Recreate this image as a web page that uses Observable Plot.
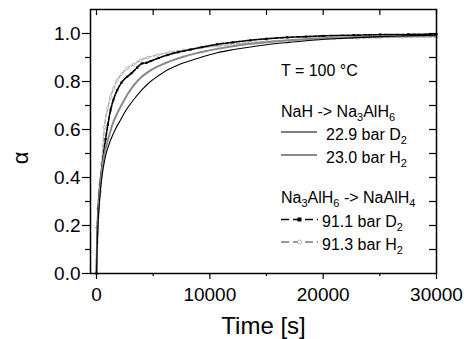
<!DOCTYPE html>
<html><head><meta charset="utf-8">
<script src="https://cdn.jsdelivr.net/npm/d3@7"></script>
<script src="https://cdn.jsdelivr.net/npm/@observablehq/plot@0.6"></script>
<style>body{margin:0;background:#fff}</style>
</head><body><div id="chart"></div>
<script>
// NaH -> Na3AlH6, 22.9 bar D2
const tD2a = [0, 50, 150, 300, 500, 800, 1236, 1600, 2120, 2600, 3290, 4000, 4770, 5500, 6240, 7000, 7700, 8500, 9180, 10650, 12120, 13590, 15000, 17000, 19000, 21000, 23000, 25000, 27000, 30000];
const aD2a = [0, 0.10, 0.22, 0.32, 0.41, 0.49, 0.555, 0.595, 0.64, 0.68, 0.725, 0.765, 0.80, 0.825, 0.848, 0.865, 0.878, 0.89, 0.90, 0.92, 0.933, 0.944, 0.953, 0.963, 0.972, 0.978, 0.983, 0.987, 0.99, 0.993];
// NaH -> Na3AlH6, 23.0 bar H2
const tH2a = [0, 50, 150, 300, 500, 800, 1090, 1400, 1830, 2300, 2710, 3300, 3880, 4500, 5360, 6000, 6820, 7600, 8590, 9500, 10650, 12000, 13590, 15000, 17000, 19000, 21000, 23000, 25000, 27000, 30000];
const aH2a = [0, 0.11, 0.24, 0.35, 0.44, 0.52, 0.57, 0.62, 0.667, 0.71, 0.745, 0.785, 0.815, 0.838, 0.862, 0.875, 0.89, 0.902, 0.915, 0.925, 0.936, 0.947, 0.957, 0.964, 0.972, 0.978, 0.982, 0.985, 0.987, 0.989, 0.99];
// Na3AlH6 -> NaAlH4, 91.1 bar D2
const tD2b = [0, 50, 150, 300, 500, 800, 1000, 1236, 1500, 1830, 2200, 2710, 3100, 3590, 4000, 4400, 4770, 5500, 6240, 7200, 8300, 9300, 10650, 12000, 13590, 15000, 16830, 18500, 20000, 22700, 25000, 27500, 30000];
const aD2b = [0, 0.13, 0.27, 0.37, 0.45, 0.56, 0.62, 0.68, 0.725, 0.764, 0.795, 0.82, 0.835, 0.858, 0.875, 0.878, 0.885, 0.898, 0.91, 0.922, 0.933, 0.943, 0.955, 0.963, 0.972, 0.978, 0.984, 0.987, 0.99, 0.993, 0.995, 0.996, 0.998];
// Na3AlH6 -> NaAlH4, 91.3 bar H2
const tH2b = [0, 40, 150, 330, 470, 700, 1000, 1236, 1500, 1830, 2200, 2710, 3300, 3880, 4500, 5360, 6500, 7700, 9000, 10650, 12000, 13590, 15000, 17000, 19000, 21000, 23000, 25000, 27000, 30000];
const aH2b = [0, 0.19, 0.27, 0.34, 0.46, 0.61, 0.69, 0.736, 0.77, 0.806, 0.83, 0.855, 0.872, 0.889, 0.9, 0.91, 0.922, 0.931, 0.94, 0.948, 0.955, 0.962, 0.967, 0.972, 0.976, 0.979, 0.981, 0.983, 0.985, 0.986];

const xTicks = [0, 10000, 20000, 30000];
const xMinor = [5000, 15000, 25000];
const xTopTicks = [0, 5000, 10000, 15000, 20000, 25000, 30000];
const yTicks = [0, 0.2, 0.4, 0.6, 0.8, 1.0];
const yMinor = [0.1, 0.3, 0.5, 0.7, 0.9];
const yRightTicks = [0.1, 0.2, 0.3, 0.4, 0.5, 0.6, 0.7, 0.8, 0.9, 1.0];

const rows = (t, a) => t.map((d, i) => ({t: d, a: a[i]}));
const dD2a = rows(tD2a, aD2a), dH2a = rows(tH2a, aH2a), dD2b = rows(tD2b, aD2b), dH2b = rows(tH2b, aH2b);

const W = 464, H = 339, mL = 90, mR = 28, mT = 9, mB = 66;
const iW = W - mL - mR, iH = H - mT - mB;
const FONT = "'Liberation Sans', Arial, Helvetica, sans-serif";

const chart = Plot.plot({
  width: W, height: H,
  marginLeft: mL, marginRight: mR, marginTop: mT, marginBottom: mB,
  style: {fontFamily: FONT, fontSize: "19px", color: "#000", background: "#fff", overflow: "visible"},
  x: {domain: [-530, 30000]},
  y: {domain: [0, 1.1]},
  marks: [
    Plot.line(dH2b, {x: "t", y: "a", stroke: "#b4b4b4", strokeWidth: 1.6, strokeDasharray: "4,2", curve: "monotone-x"}),
    Plot.dot(dH2b, {x: "t", y: "a", r: 1.3, fill: "#fff", stroke: "#aaa", strokeWidth: 0.8}),
    Plot.line(dD2b, {x: "t", y: "a", stroke: "#000", strokeWidth: 1.7, strokeDasharray: "4,1.5", curve: "monotone-x"}),
    Plot.dot(dD2b, {x: "t", y: "a", r: 1.2, symbol: "square", fill: "#000"}),
    Plot.line(dH2a, {x: "t", y: "a", stroke: "#8a8a8a", strokeWidth: 2, curve: "monotone-x"}),
    Plot.line(dD2a, {x: "t", y: "a", stroke: "#000", strokeWidth: 1.1, curve: "monotone-x"}),
    Plot.frame({stroke: "#000", strokeWidth: 1.5}),
    Plot.axisX({ticks: xTicks, tickFormat: d3.format("d"), tickSize: 6, tickPadding: 8, label: null, strokeWidth: 1.2}),
    Plot.tickX(xMinor, {x: d => d, insetTop: iH, insetBottom: -3, stroke: "#000", strokeWidth: 1.2}),
    Plot.tickX(xTopTicks, {x: d => d, insetTop: 0, insetBottom: iH - 6, stroke: "#000", strokeWidth: 1.2}),
    Plot.axisY({ticks: yTicks, tickFormat: d3.format(".1f"), tickSize: 8, tickPadding: 2, label: null, strokeWidth: 1.2}),
    Plot.tickY(yMinor, {y: d => d, insetLeft: -5, insetRight: iW, stroke: "#000", strokeWidth: 1.2}),
    Plot.tickY(yRightTicks, {y: d => d, insetLeft: iW - 7, insetRight: 0, stroke: "#000", strokeWidth: 1.2}),
    Plot.text(["Time [s]"], {frameAnchor: "bottom", dy: 60, lineAnchor: "bottom", fontSize: 24})
  ]
});
document.getElementById("chart").appendChild(chart);

const svg = d3.select(chart);
// y-axis title (rotated)
svg.append("text").attr("transform", "translate(20,158) rotate(-90)")
  .attr("text-anchor", "middle").attr("dominant-baseline", "central")
  .attr("font-family", FONT).attr("font-size", 22).attr("fill", "#000").text("α");

// legend
const legendTitle = "T = 100 °C";
const groupTitles = [[["NaH -> Na", ""], ["3", "sub"], ["AlH", ""], ["6", "sub"]], [["Na", ""], ["3", "sub"], ["AlH", ""], ["6", "sub"], [" -> NaAlH", ""], ["4", "sub"]]];
const entries = [
  {parts: [["22.9 bar D", ""], ["2", "sub"]], stroke: "#000", width: 1.2, dash: null, marker: null},
  {parts: [["23.0 bar H", ""], ["2", "sub"]], stroke: "#8a8a8a", width: 2, dash: null, marker: null},
  {parts: [["91.1 bar D", ""], ["2", "sub"]], stroke: "#000", width: 1.5, dash: "8,4", marker: "square"},
  {parts: [["91.3 bar H", ""], ["2", "sub"]], stroke: "#9a9a9a", width: 1.8, dash: "8,4", marker: "circle"}
];
const lg = svg.append("g").attr("font-family", FONT).attr("font-size", 16).attr("fill", "#000").attr("text-anchor", "start");
function richText(x, y, parts) {
  const t = lg.append("text").attr("x", x).attr("y", y).attr("text-anchor", "start");
  let shifted = false;
  parts.forEach(([s, kind]) => {
    const ts = t.append("tspan").text(s);
    if (kind === "sub") { ts.attr("font-size", 11).attr("dy", 4); shifted = true; }
    else if (shifted) { ts.attr("dy", -4); shifted = false; }
  });
}
lg.append("text").attr("x", 281).attr("y", 76).attr("text-anchor", "start").text(legendTitle);
richText(281, 117, groupTitles[0]);
richText(281, 203, groupTitles[1]);
const entryY = [132, 155, 219.5, 242];
const entryTextX = [326, 326, 322, 322];
entries.forEach((e, i) => {
  const y = entryY[i];
  lg.append("line").attr("x1", 281).attr("x2", e.marker ? 318 : 317).attr("y1", y).attr("y2", y)
    .attr("stroke", e.stroke).attr("stroke-width", e.width).attr("stroke-dasharray", e.dash);
  if (e.marker === "square") lg.append("rect").attr("x", 297.5).attr("y", y - 2).attr("width", 4).attr("height", 4).attr("fill", "#000");
  if (e.marker === "circle") lg.append("circle").attr("cx", 299.5).attr("cy", y).attr("r", 2).attr("fill", "#fff").attr("stroke", "#999").attr("stroke-width", 0.8);
  richText(entryTextX[i], y + 7.5, e.parts);
});
</script>
</body></html>
